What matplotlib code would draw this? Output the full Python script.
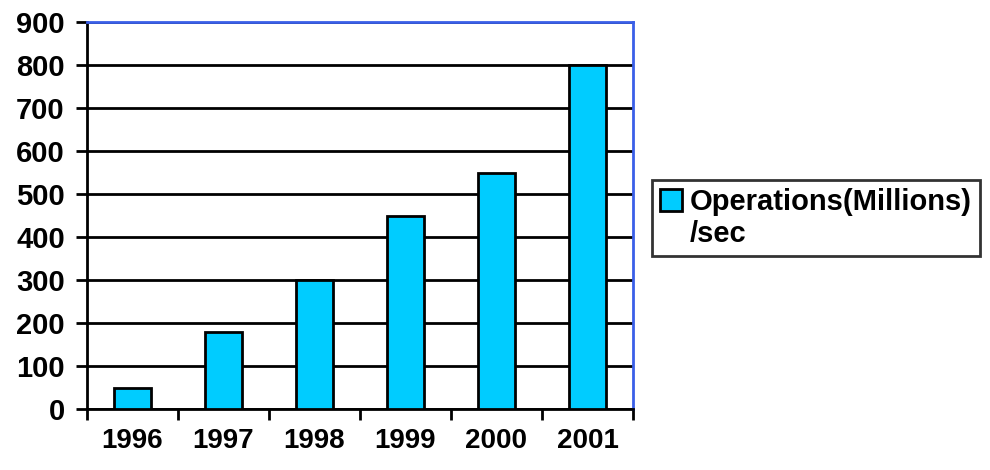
import numpy as np
import matplotlib.pyplot as plt
import matplotlib.patches as mpatches

years = ['1996', '1997', '1998', '1999', '2000', '2001']
ops = [50, 180, 300, 450, 550, 800]
yticks = [0, 100, 200, 300, 400, 500, 600, 700, 800, 900]

plt.rcParams['font.family'] = ['Liberation Sans', 'DejaVu Sans']
plt.rcParams['font.weight'] = 'bold'

fig = plt.figure(figsize=(9.9, 4.7), dpi=100)
ax = fig.add_axes([87 / 990, 1 - 409 / 470, 546 / 990, 387 / 470])

x = np.arange(len(years))
bars = ax.bar(x, ops, width=0.4, color='#00CCFF', edgecolor='black', linewidth=2,
              zorder=3)

ax.set_ylim(0, 900)
ax.set_xlim(-0.5, len(years) - 0.5)
ax.set_yticks(yticks)
ax.set_yticklabels([str(v) for v in yticks], fontsize=21, fontweight='bold')
ax.yaxis.grid(True, color='black', linewidth=2, zorder=0)
ax.set_axisbelow(True)

# category labels centred, tick marks between categories
ax.set_xticks(np.arange(-0.5, len(years)), minor=False)
ax.set_xticklabels([''] * (len(years) + 1))
ax.set_xticks(x, minor=True)
ax.set_xticklabels(years, minor=True, fontsize=20, fontweight='bold')
ax.tick_params(axis='x', which='minor', length=0, pad=14)
ax.tick_params(axis='x', which='major', length=8, width=2, direction='out')
ax.tick_params(axis='y', length=8, width=2, direction='out', pad=8)

for s in ['left', 'bottom']:
    ax.spines[s].set_linewidth(2)
    ax.spines[s].set_color('black')
for s in ['top', 'right']:
    ax.spines[s].set_linewidth(2)
    ax.spines[s].set_color('#3A5FE8')

# legend: handle sits next to the first line only
blank = mpatches.Patch(facecolor='none', edgecolor='none', linewidth=0)
leg = fig.legend([bars, blank], ['Operations(Millions)', '/sec'],
                 loc='upper left', bbox_to_anchor=(652 / 990, 1 - 180 / 470),
                 fontsize=21, frameon=True, fancybox=False, edgecolor='black',
                 handlelength=0.75, handleheight=0.75, handletextpad=0.25,
                 labelspacing=0.12, borderpad=0.28, borderaxespad=0)
leg.get_frame().set_linewidth(2)
for t in leg.get_texts():
    t.set_fontweight('bold')

fig.savefig('out.png', dpi=100)
